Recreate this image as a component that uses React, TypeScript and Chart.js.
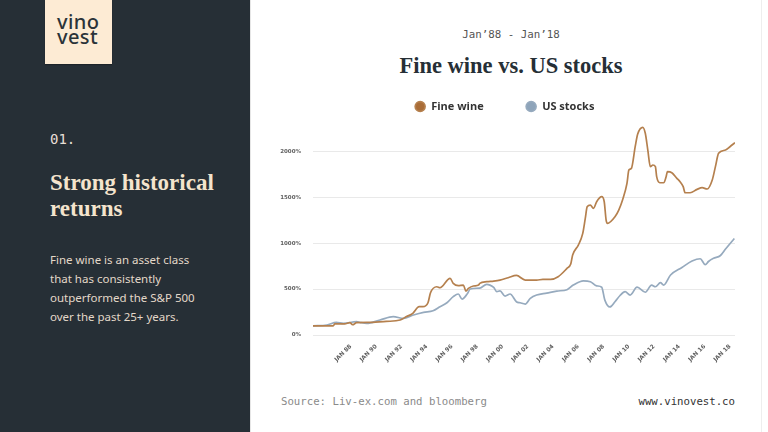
import React, { useEffect, useRef } from "react";
import { Chart, registerables } from "chart.js";

Chart.register(...registerables);

const seriesNames = ["Fine wine", "US stocks"];

const wineYears = [
  1985.0, 1986.6, 1986.73, 1987.5, 1987.92, 1988.13, 1988.45, 1989.5, 1990.8, 1991.9,
  1992.4, 1992.9, 1993.4, 1993.7, 1994.1, 1994.3, 1994.8, 1995.05, 1995.85, 1996.1,
  1996.5, 1996.9, 1997.1, 1997.3, 1997.7, 1998.1, 1998.2, 1998.75, 1999.3, 1999.8,
  2000.45, 2001.1, 2001.8, 2002.7, 2003.2, 2003.8, 2004.4, 2005.1, 2005.4, 2005.55,
  2006.0, 2006.35, 2006.55, 2006.7, 2006.95, 2007.2, 2007.45, 2007.85, 2008.05, 2008.2,
  2008.3, 2008.9, 2009.2, 2009.5, 2009.85, 2010.0, 2010.2, 2010.5, 2010.7, 2011.1,
  2011.3, 2011.5, 2011.7, 2011.9, 2012.1, 2012.2, 2012.45, 2012.75, 2012.95, 2013.05,
  2013.4, 2013.8, 2014.05, 2014.3, 2014.45, 2014.85, 2015.4, 2015.8, 2016.2, 2016.6,
  2016.85, 2017.1, 2017.65, 2018.0, 2018.4,
];
const wineValues = [
  100, 100, 120, 120, 135, 112, 134, 138, 148, 163,
  200, 236, 308, 308, 351, 460, 525, 514, 616, 562,
  537, 543, 478, 507, 533, 543, 562, 580, 587, 598,
  623, 648, 598, 598, 605, 605, 634, 725, 772, 870,
  979, 1106, 1269, 1396, 1414, 1378, 1450, 1505, 1450, 1251,
  1215, 1287, 1360, 1469, 1650, 1795, 1813, 2049, 2187, 2260,
  2195, 2013, 1832, 1850, 1832, 1723, 1657, 1657, 1723, 1777,
  1766, 1705, 1668, 1614, 1548, 1548, 1585, 1603, 1589, 1687,
  1832, 1977, 2013, 2049, 2093,
];

const stockYears = [
  1985.0, 1986.1, 1986.85, 1987.4, 1988.45, 1988.7, 1989.25, 1990.3, 1991.35, 1992.15,
  1992.95, 1993.75, 1994.5, 1995.05, 1995.6, 1996.1, 1996.5, 1996.8, 1997.2, 1997.45,
  1998.2, 1998.75, 1999.0, 1999.3, 1999.55, 1999.8, 2000.2, 2000.6, 2001.1, 2001.4,
  2001.8, 2002.2, 2002.7, 2003.5, 2004.3, 2005.1, 2005.6, 2006.4, 2006.95, 2007.45,
  2007.85, 2008.1, 2008.5, 2008.9, 2009.3, 2009.7, 2010.1, 2010.65, 2011.3, 2011.8,
  2012.1, 2012.5, 2012.75, 2013.3, 2014.2, 2015.0, 2015.65, 2016.05, 2016.3, 2016.7,
  2017.25, 2017.65, 2018.35,
];
const stockValues = [
  100, 109, 138, 127, 145, 138, 127, 163, 200, 181,
  218, 247, 264, 308, 351, 417, 446, 391, 446, 500,
  511, 551, 543, 518, 471, 480, 424, 446, 362, 351,
  337, 399, 435, 456, 478, 493, 543, 590, 580, 535,
  520, 380, 305, 362, 430, 471, 435, 520, 465, 543,
  525, 569, 543, 653, 735, 805, 830, 765, 800, 834,
  865, 935, 1051,
];

const xTickYears = [1988, 1990, 1992, 1994, 1996, 1998, 2000, 2002, 2004, 2006, 2008, 2010, 2012, 2014, 2016, 2018];
const xTickLabels = ["JAN 88", "JAN 90", "JAN 92", "JAN 94", "JAN 96", "JAN 98", "JAN 00", "JAN 02", "JAN 04", "JAN 06", "JAN 08", "JAN 10", "JAN 12", "JAN 14", "JAN 16", "JAN 18"];
const yTickValues = [0, 500, 1000, 1500, 2000];
const yTickLabels = ["0%", "500%", "1000%", "1500%", "2000%"];

const mono = "'DejaVu Sans Mono', 'Liberation Mono', monospace";
const serif = "'Liberation Serif', 'DejaVu Serif', serif";
const sans = "'Noto Sans', 'Open Sans', sans-serif";

export default function App() {
  const ref = useRef<HTMLCanvasElement | null>(null);

  useEffect(() => {
    document.body.style.margin = "0";
    const canvas = ref.current;
    if (!canvas) return;
    const chart = new Chart(canvas, {
      type: "line",
      data: {
        datasets: [
          {
            label: seriesNames[0],
            data: wineYears.map((x, i) => ({ x, y: wineValues[i] })),
            borderColor: "#b5804e",
            backgroundColor: "#a96c37",
            borderWidth: 1.7,
            pointRadius: 0,
            cubicInterpolationMode: "monotone",
          },
          {
            label: seriesNames[1],
            data: stockYears.map((x, i) => ({ x, y: stockValues[i] })),
            borderColor: "#96aabe",
            backgroundColor: "#8ea4ba",
            borderWidth: 1.7,
            pointRadius: 0,
            cubicInterpolationMode: "monotone",
          },
        ],
      },
      options: {
        animation: false,
        responsive: true,
        maintainAspectRatio: false,
        layout: { padding: { left: 0, right: 33, top: 0, bottom: 0 } },
        plugins: {
          tooltip: { enabled: false },
          legend: {
            position: "top",
            labels: {
              usePointStyle: true,
              pointStyle: "circle",
              boxHeight: 7,
              boxWidth: 11,
              padding: 42,
              color: "#333333",
              font: { family: "'Open Sans', 'Noto Sans', sans-serif", size: 11, weight: "bold" },
            },
          },
        },
        scales: {
          x: {
            type: "linear",
            min: 1985,
            max: 2018.4,
            afterBuildTicks: (scale: any) => {
              scale.ticks = xTickYears.map((v) => ({ value: v }));
            },
            afterFit: (scale: any) => {
              scale.height = 53;
            },
            grid: { display: false, drawTicks: false },
            border: { display: false },
            ticks: {
              autoSkip: false,
              minRotation: 45,
              maxRotation: 45,
              padding: 8,
              color: "#5f5f5f",
              font: { family: "'DejaVu Sans', sans-serif", size: 5.8, weight: "bold" },
              callback: (_v: any, i: number) => xTickLabels[i],
            },
          },
          y: {
            type: "linear",
            min: 0,
            max: 2318,
            afterBuildTicks: (scale: any) => {
              scale.ticks = yTickValues.map((v) => ({ value: v }));
            },
            afterFit: (scale: any) => {
              scale.width = 39;
            },
            grid: { color: "#e9e9e9", lineWidth: 1, drawTicks: false },
            border: { display: false },
            ticks: {
              padding: 12,
              color: "#5f5f5f",
              font: { family: "'DejaVu Sans', sans-serif", size: 5.5, weight: "bold" },
              callback: (_v: any, i: number) => yTickLabels[i],
            },
          },
        },
      },
    });
    return () => chart.destroy();
  }, []);

  return (
    <div
      style={{
        position: "fixed",
        left: 0,
        top: 0,
        width: 768,
        height: 432,
        overflow: "hidden",
        background: "#ffffff",
      }}
    >
      {/* Left dark panel */}
      <div style={{ position: "absolute", left: 0, top: 0, width: 250, height: 432, background: "#262f36" }}>
        <div
          style={{
            position: "absolute",
            left: 45,
            top: 0,
            width: 67,
            height: 64,
            background: "#fdebd4",
            boxShadow: "0 1px 1px rgba(0,0,0,0.25)",
          }}
        >
          <div
            style={{
              position: "absolute",
              left: 12,
              top: 14,
              fontFamily: sans,
              fontSize: 20,
              lineHeight: "15px",
              color: "#2b3339",
              fontWeight: 500,
              letterSpacing: 0.4,
            }}
          >
            vino
            <br />
            vest
          </div>
        </div>
        <div
          style={{
            position: "absolute",
            left: 50,
            top: 132,
            fontFamily: mono,
            fontSize: 14,
            lineHeight: "14px",
            color: "#e6dfd6",
          }}
        >
          01.
        </div>
        <div
          style={{
            position: "absolute",
            left: 50,
            top: 170,
            fontFamily: serif,
            fontSize: 23,
            fontWeight: "bold",
            lineHeight: "26px",
            color: "#f4e4cd",
            whiteSpace: "nowrap",
          }}
        >
          Strong historical
          <br />
          returns
        </div>
        <div
          style={{
            position: "absolute",
            left: 50,
            top: 250,
            fontFamily: sans,
            fontSize: 11.5,
            lineHeight: "19px",
            color: "#e3d8c9",
            whiteSpace: "nowrap",
          }}
        >
          Fine wine is an asset class
          <br />
          that has consistently
          <br />
          outperformed the S&amp;P 500
          <br />
          over the past 25+ years.
        </div>
      </div>

      {/* Right panel borders */}
      <div style={{ position: "absolute", left: 250, top: 0, width: 1, height: 432, background: "#e6e6e6" }} />
      <div style={{ position: "absolute", left: 761, top: 0, width: 1, height: 432, background: "#eeeeee" }} />

      <div
        style={{
          position: "absolute",
          left: 254,
          top: 30,
          width: 514,
          textAlign: "center",
          fontFamily: mono,
          fontSize: 10.8,
          lineHeight: "10.8px",
          color: "#555555",
          whiteSpace: "pre",
        }}
      >
        Jan’88 - Jan’18
      </div>
      <div
        style={{
          position: "absolute",
          left: 254,
          top: 53,
          width: 514,
          textAlign: "center",
          fontFamily: serif,
          fontSize: 22.5,
          fontWeight: "bold",
          lineHeight: "26px",
          color: "#262f36",
          whiteSpace: "nowrap",
        }}
      >
        Fine wine vs. US stocks
      </div>

      <div style={{ position: "absolute", left: 274, top: 59, width: 494, height: 329 }}>
        <canvas ref={ref} />
      </div>

      <div
        style={{
          position: "absolute",
          left: 281,
          top: 397,
          fontFamily: mono,
          fontSize: 10.7,
          lineHeight: "10.7px",
          color: "#8a8a8a",
          whiteSpace: "pre",
        }}
      >
        Source: Liv-ex.com and bloomberg
      </div>
      <div
        style={{
          position: "absolute",
          right: 768 - 735,
          top: 397,
          fontFamily: mono,
          fontSize: 10.7,
          lineHeight: "10.7px",
          color: "#333333",
          whiteSpace: "pre",
        }}
      >
        www.vinovest.co
      </div>
    </div>
  );
}
